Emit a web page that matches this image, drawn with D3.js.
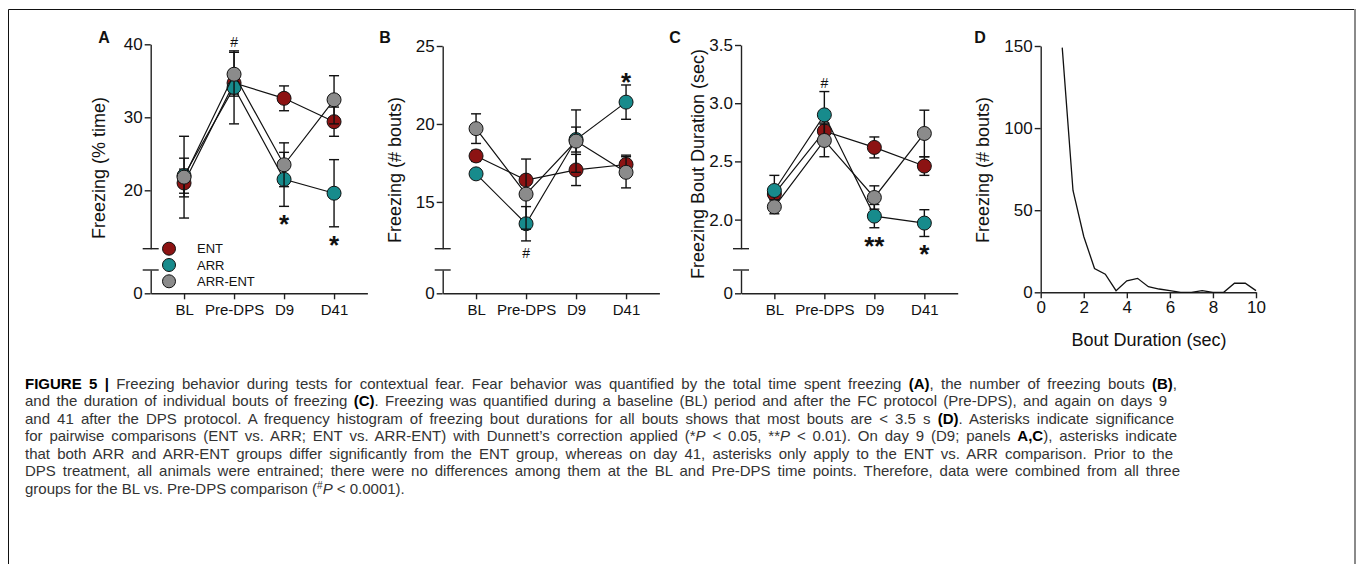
<!DOCTYPE html>
<html>
<head>
<meta charset="utf-8">
<style>
    body { margin: 0; background: #fff; }
    text { font-family: "Liberation Sans", Arial, sans-serif; fill: #111; }
    .axis path, .axis line { stroke: #222; stroke-width: 1.4; }
    .axis text { font-family: "Liberation Sans", Arial, sans-serif; fill: #111; }
    .cap { stroke: #222; stroke-width: 1.4; }
    .caption { font-size: 15px; fill: #333; }
</style>
<script src="https://cdn.jsdelivr.net/npm/d3@7"></script>
</head>
<body>
<div id="canvas"></div>
<script>

var categories = ["BL", "Pre-DPS", "D9", "D41"];
var groups = ["ENT", "ARR", "ARR-ENT"];
var groupColors = ["#8c1313", "#178b8c", "#8b8b8b"];

// A - freezing, % time
var timeEnt = [21.0, 34.7, 32.6, 29.4];
var timeEntSem = [1.9, 1.5, 1.7, 2.0];
var timeArr = [22.0, 34.1, 21.5, 19.6];
var timeArrSem = [2.4, 5.0, 3.7, 4.6];
var timeArrEnt = [21.8, 35.9, 23.5, 32.4];
var timeArrEntSem = [5.6, 3.0, 3.0, 3.3];

// B - freezing, number of bouts
var boutsEnt = [17.95, 16.4, 17.05, 17.4];
var boutsEntSem = [0.35, 0.3, 1.0, 0.6];
var boutsArr = [16.8, 13.6, 19.0, 21.4];
var boutsArrSem = [0.2, 1.1, 0.8, 1.1];
var boutsArrEnt = [19.7, 15.5, 18.9, 16.9];
var boutsArrEntSem = [0.95, 2.25, 2.0, 1.0];

// C - freezing bout duration, sec
var durEnt = [2.22, 2.76, 2.62, 2.46];
var durEntSem = [0.05, 0.07, 0.09, 0.08];
var durArr = [2.25, 2.90, 2.03, 1.97];
var durArrSem = [0.13, 0.2, 0.1, 0.115];
var durArrEnt = [2.11, 2.68, 2.19, 2.74];
var durArrEntSem = [0.06, 0.14, 0.1, 0.2];

// D - histogram of bout durations
var boutDuration = [1, 1.5, 2, 2.5, 3, 3.5, 4, 4.5, 5, 5.5, 6, 6.5, 7, 7.5, 8, 8.5, 9, 9.5, 10];
var boutCount = [149, 62, 34, 14.5, 11, 1, 7, 8.5, 3.4, 2, 1, 0, 0, 1, 0, 0, 5.5, 5.5, 1];

var ticksA = [20, 30, 40];
var ticksB = [15, 20, 25];
var ticksC = [2.0, 2.5, 3.0, 3.5];
var ticksDx = [0, 2, 4, 6, 8, 10];
var ticksDy = [0, 50, 100, 150];

var captionLines = [
    [["FIGURE 5 |", "b"], [" Freezing behavior during tests for contextual fear. Fear behavior was quantified by the total time spent freezing "], ["(A)", "b"], [", the number of freezing bouts "], ["(B)", "b"], [","]],
    [["and the duration of individual bouts of freezing "], ["(C)", "b"], [". Freezing was quantified during a baseline (BL) period and after the FC protocol (Pre-DPS), and again on days 9"]],
    [["and 41 after the DPS protocol. A frequency histogram of freezing bout durations for all bouts shows that most bouts are < 3.5 s "], ["(D)", "b"], [". Asterisks indicate significance"]],
    [["for pairwise comparisons (ENT vs. ARR; ENT vs. ARR-ENT) with Dunnett\u2019s correction applied (*"], ["P", "i"], [" < 0.05, **"], ["P", "i"], [" < 0.01). On day 9 (D9; panels "], ["A,C", "b"], ["), asterisks indicate"]],
    [["that both ARR and ARR-ENT groups differ significantly from the ENT group, whereas on day 41, asterisks only apply to the ENT vs. ARR comparison. Prior to the"]],
    [["DPS treatment, all animals were entrained; there were no differences among them at the BL and Pre-DPS time points. Therefore, data were combined from all three"]],
    [["groups for the BL vs. Pre-DPS comparison ("], ["#", "sup"], ["P", "i"], [" < 0.0001)."]]
];
var captionWidths = [1152, 1142, 1149, 1152, 1148, 1155];

var W = 1358, H = 564;
var breakY = 248.7, lowTop = 270, zeroY = 293.3;

var svg = d3.select("#canvas").append("svg").attr("width", W).attr("height", H);

// frame around figure
svg.append("path").attr("d", "M8.5,600V9.5H1355").attr("fill", "none").attr("stroke", "#111").attr("stroke-width", 1);
svg.append("line").attr("x1", 1355).attr("x2", 1355).attr("y1", 9).attr("y2", H)
    .attr("stroke", "#8a8a8a").attr("stroke-width", 2);

function seriesList(means, sems) {
    return groups.map(function(name, i) {
        return { name: name, color: groupColors[i], mean: means[i], sem: sems[i] };
    });
}

function yLabel(g, text, cx, cy) {
    g.append("text")
        .attr("transform", "translate(" + (cx + 6) + "," + cy + ") rotate(-90)")
        .attr("text-anchor", "middle")
        .style("font-size", "18px")
        .text(text);
}

function panelLetter(letter, x) {
    svg.append("text").attr("x", x).attr("y", 42.5).attr("text-anchor", "middle")
        .style("font-size", "16px").style("font-weight", "bold").text(letter);
}

function catPanel(p) {
    var g = svg.append("g");
    var x = d3.scalePoint().domain(categories).range([p.left, p.left + 216.7]).padding(0.667);
    var y = d3.scaleLinear().domain(p.domain).range([breakY, p.top]);
    var yLow = d3.scaleLinear().domain([0, 1]).range([zeroY, lowTop]);

    var ax = g.append("g").attr("class", "axis").attr("transform", "translate(" + p.left + ",0)")
        .call(d3.axisLeft(y).tickValues(p.ticks).tickFormat(p.fmt).tickSize(6).tickSizeOuter(0).tickPadding(2));
    ax.selectAll("text").style("font-size", "17px");
    var axl = g.append("g").attr("class", "axis").attr("transform", "translate(" + p.left + ",0)")
        .call(d3.axisLeft(yLow).tickValues([0]).tickFormat(d3.format("d")).tickSize(6).tickSizeOuter(0).tickPadding(2));
    axl.selectAll("text").style("font-size", "17px");

    // break caps
    [breakY, lowTop].forEach(function(yy) {
        g.append("line").attr("class", "cap")
            .attr("x1", p.left - 8).attr("x2", p.left + 8).attr("y1", yy).attr("y2", yy);
    });

    var axb = g.append("g").attr("class", "axis").attr("transform", "translate(0," + zeroY + ")")
        .call(d3.axisBottom(x).tickSize(6).tickSizeOuter(0).tickPadding(5));
    axb.selectAll("text").style("font-size", "15px");

    var line = d3.line()
        .x(function(d, j) { return x(categories[j]); })
        .y(function(d) { return y(d); });

    p.series.forEach(function(s) {
        var sg = g.append("g");
        sg.append("path").datum(s.mean).attr("d", line)
            .attr("fill", "none").attr("stroke", "#111").attr("stroke-width", 1.2);

        s.mean.forEach(function(m, j) {
            var cx = x(categories[j]);
            var lo = y(m - s.sem[j]), hi = y(m + s.sem[j]);
            sg.append("line").attr("x1", cx).attr("x2", cx).attr("y1", lo).attr("y2", hi)
                .attr("stroke", "#111").attr("stroke-width", 1.4);
            [lo, hi].forEach(function(yy) {
                sg.append("line").attr("x1", cx - 5).attr("x2", cx + 5).attr("y1", yy).attr("y2", yy)
                    .attr("stroke", "#111").attr("stroke-width", 1.4);
            });
        });

        sg.selectAll("circle").data(s.mean).enter().append("circle")
            .attr("cx", function(d, j) { return x(categories[j]); })
            .attr("cy", function(d) { return y(d); })
            .attr("r", 7)
            .attr("fill", s.color)
            .attr("stroke", "#111").attr("stroke-width", 1);
    });

    // significance marks
    p.marks.forEach(function(mk) {
        var j = categories.indexOf(mk.cat);
        var cx = x(mk.cat);
        var cy;
        if (mk.side == "above") {
            cy = d3.min(p.series, function(s) { return y(s.mean[j] + s.sem[j]); }) - 9;
        } else {
            cy = d3.max(p.series, function(s) { return y(s.mean[j] - s.sem[j]); }) + 12;
        }
        if (mk.text == "#") {
            g.append("text").attr("x", cx).attr("y", cy + 5).attr("text-anchor", "middle")
                .style("font-size", "14px").text("#");
        } else {
            g.append("text").attr("x", cx).attr("y", cy + 15).attr("text-anchor", "middle")
                .style("font-size", "26px").style("font-weight", "bold").text(mk.text);
        }
    });

    yLabel(g, p.label, p.labelX, p.labelY);
    return g;
}

var gA = catPanel({
    left: 150.7, top: 44.3, domain: [12, 40], ticks: ticksA, fmt: d3.format("d"),
    series: seriesList([timeEnt, timeArr, timeArrEnt], [timeEntSem, timeArrSem, timeArrEntSem]),
    marks: [{ cat: "Pre-DPS", text: "#", side: "above" }, { cat: "D9", text: "*", side: "below" }, { cat: "D41", text: "*", side: "below" }],
    label: "Freezing (% time)", labelX: 99, labelY: 168
});

catPanel({
    left: 442.7, top: 46, domain: [12, 25], ticks: ticksB, fmt: d3.format("d"),
    series: seriesList([boutsEnt, boutsArr, boutsArrEnt], [boutsEntSem, boutsArrSem, boutsArrEntSem]),
    marks: [{ cat: "Pre-DPS", text: "#", side: "below" }, { cat: "D41", text: "*", side: "above" }],
    label: "Freezing (# bouts)", labelX: 395, labelY: 170
});

catPanel({
    left: 741, top: 45, domain: [1.75, 3.5], ticks: ticksC, fmt: d3.format(".1f"),
    series: seriesList([durEnt, durArr, durArrEnt], [durEntSem, durArrSem, durArrEntSem]),
    marks: [{ cat: "Pre-DPS", text: "#", side: "above" }, { cat: "D9", text: "**", side: "below" }, { cat: "D41", text: "*", side: "below" }],
    label: "Freezing Bout Duration (sec)", labelX: 698, labelY: 164
});

// legend in panel A
var legend = gA.append("g");
groups.forEach(function(name, i) {
    var ly = breakY + i * 16.3;
    legend.append("circle").attr("cx", 169).attr("cy", ly).attr("r", 6.5)
        .attr("fill", groupColors[i]).attr("stroke", "#111").attr("stroke-width", 1);
    legend.append("text").attr("x", 197).attr("y", ly + 4.5).style("font-size", "13px").text(name);
});

// D - histogram line
var gD = svg.append("g");
var xD = d3.scaleLinear().domain([0, 10]).range([1040.7, 1256]);
var yD = d3.scaleLinear().domain([0, 150]).range([292.3, 46]);
var axDy = gD.append("g").attr("class", "axis").attr("transform", "translate(1040.7,0)")
    .call(d3.axisLeft(yD).tickValues(ticksDy).tickSize(6).tickSizeOuter(0).tickPadding(2));
axDy.selectAll("text").style("font-size", "17px");
var axDx = gD.append("g").attr("class", "axis").attr("transform", "translate(0,292.3)")
    .call(d3.axisBottom(xD).tickValues(ticksDx).tickSize(6).tickSizeOuter(0).tickPadding(3));
axDx.selectAll("text").style("font-size", "17px");

gD.append("path")
    .datum(boutDuration)
    .attr("d", d3.line().x(function(d) { return xD(d); }).y(function(d, i) { return yD(boutCount[i]); }))
    .attr("fill", "none").attr("stroke", "#111").attr("stroke-width", 1.3);

gD.append("text").attr("x", 1149).attr("y", 346).attr("text-anchor", "middle")
    .style("font-size", "18px").text("Bout Duration (sec)");
yLabel(gD, "Freezing (# bouts)", 983, 170);

panelLetter("A", 104);
panelLetter("B", 385);
panelLetter("C", 675);
panelLetter("D", 980);

// caption: first line sets the horizontal squeeze, lines 2-6 are justified, last line is left ragged
var cap = svg.append("g");
var rows = captionLines.map(function(segs, i) {
    var t = cap.append("text").attr("class", "caption")
        .attr("x", 25).attr("y", 389 + i * 17.45);
    segs.forEach(function(s, n) {
        var ts = t.append("tspan").text(s[0]);
        if (s[1] == "b") ts.style("font-weight", "bold").style("fill", "#000");
        if (s[1] == "i") ts.style("font-style", "italic");
        if (s[1] == "sup") ts.attr("dy", -5).style("font-size", "10px");
        if (s[1] == "i" && n > 0 && segs[n - 1][1] == "sup") ts.attr("dy", 5);
    });
    return t;
});
var k = Math.min(1, captionWidths[0] / rows[0].node().getComputedTextLength());
cap.attr("transform", "translate(25,0) scale(" + k + ",1) translate(-25,0)");
rows.forEach(function(t, i) {
    if (i >= captionWidths.length) return;
    var natural = t.node().getComputedTextLength();
    var spaces = t.text().split(" ").length - 1;
    var ws = (captionWidths[i] / k - natural) / spaces;
    t.style("word-spacing", ws + "px");
});

</script>
</body>
</html>
